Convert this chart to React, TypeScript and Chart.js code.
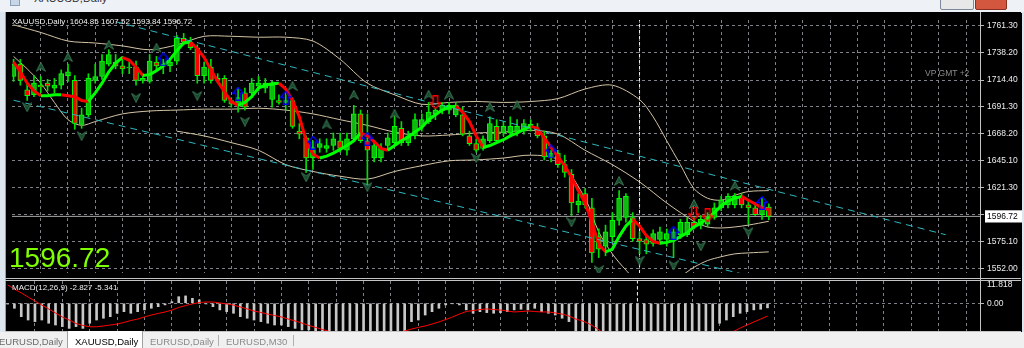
import React, { useEffect, useRef } from 'react';
import { Chart, registerables } from 'chart.js';
Chart.register(...registerables);

// ---------- data (daily XAUUSD candles, index 0..111) ----------
const opens = [1717.5,1728.2,1705.9,1701.7,1710.0,1711.7,1707.5,1710.0,1718.3,1714.1, 1676.1,1684.4,1714.1,1717.5,1728.2,1729.9,1726.6,1724.9,1725.7,1714.1, 1713.3,1729.9,1726.6,1726.6,1730.7,1750.5,1747.2,1742.3,1718.3,1725.7, 1715.8,1715.8,1696.8,1692.6,1703.4,1703.4,1709.2,1707.5,1697.6,1696.8, 1695.1,1696.8,1670.3,1664.5,1647.1,1656.2,1655.4,1657.9,1662.0,1653.8, 1663.7,1685.2,1662.0,1647.1,1647.1,1657.9,1660.4,1672.8,1660.4,1666.2, 1674.4,1678.6,1685.2,1688.5,1688.5,1684.4,1684.4,1666.2,1659.5,1655.4, 1662.0,1674.4,1668.7,1668.7,1670.3,1670.3,1674.4,1671.9,1666.2,1647.1, 1651.3,1641.4,1633.1,1606.6,1616.5,1604.1,1579.3,1571.0,1579.3,1593.3, 1595.8,1595.8,1577.6,1576.8,1573.5,1576.8,1576.8,1576.8,1581.0,1581.0, 1591.7,1589.2,1590.0,1595.8,1604.1,1606.6,1606.6,1614.0,1606.6,1604.1, 1598.3,1604.85];
const highs = [1732.3,1732.3,1711.7,1718.3,1717.5,1715.0,1715.8,1723.2,1728.2,1718.3, 1690.1,1719.9,1728.2,1736.5,1740.6,1736.5,1734.8,1729.9,1730.7,1719.9, 1736.5,1734.8,1732.3,1732.3,1753.0,1754.7,1751.4,1744.8,1729.9,1732.3, 1719.9,1718.3,1699.2,1707.5,1707.5,1715.8,1717.5,1715.8,1713.3,1701.7, 1701.7,1699.2,1676.9,1666.2,1662.0,1663.7,1663.7,1668.7,1668.7,1668.7, 1692.6,1688.5,1685.2,1662.0,1659.5,1668.7,1682.7,1678.6,1670.3,1685.2, 1685.2,1695.1,1690.1,1695.1,1695.1,1695.1,1691.0,1670.3,1663.7,1666.2, 1682.7,1680.2,1678.6,1682.7,1680.2,1680.2,1680.2,1676.9,1670.3,1653.8, 1653.8,1649.6,1637.2,1616.5,1620.7,1612.4,1585.9,1589.2,1600.0,1619.0, 1616.5,1600.0,1583.4,1581.0,1585.1,1587.6,1585.9,1585.9,1594.2,1595.8, 1595.8,1597.5,1600.0,1608.3,1614.0,1616.5,1616.5,1616.5,1609.9,1608.3, 1612.4,1607.52];
const lows = [1713.3,1710.0,1696.8,1700.1,1703.4,1705.0,1703.4,1706.7,1713.3,1671.9, 1672.8,1682.7,1711.7,1715.0,1726.6,1724.1,1719.9,1719.9,1710.0,1711.7, 1711.7,1723.2,1719.9,1721.6,1728.2,1744.8,1740.6,1711.7,1711.7,1711.7, 1711.7,1695.1,1691.0,1686.8,1688.5,1699.2,1705.0,1703.4,1691.0,1693.5, 1688.5,1672.8,1663.7,1634.7,1637.2,1652.1,1652.1,1653.8,1652.1,1649.6, 1662.0,1660.4,1623.1,1643.8,1643.8,1653.8,1657.9,1657.9,1657.9,1663.7, 1670.3,1676.9,1680.2,1685.2,1685.2,1682.7,1666.2,1657.9,1652.1,1653.8, 1660.4,1660.4,1666.2,1666.2,1666.2,1667.8,1670.3,1664.5,1645.5,1643.8, 1638.9,1630.6,1597.5,1600.0,1604.1,1556.9,1561.1,1562.7,1575.2,1589.2, 1591.7,1575.2,1564.4,1564.4,1571.0,1572.7,1571.0,1561.1,1577.6,1579.3, 1585.9,1585.9,1587.6,1594.2,1601.6,1604.1,1604.1,1604.1,1590.0,1597.5, 1594.2,1593.84];
const closes = [1728.2,1714.1,1700.9,1711.7,1708.4,1709.2,1710.0,1719.9,1721.6,1676.9, 1684.4,1715.8,1717.5,1730.7,1736.5,1726.6,1724.1,1725.7,1714.1,1715.8, 1730.7,1726.6,1728.2,1729.9,1750.5,1747.2,1742.3,1718.3,1725.7,1714.1, 1714.1,1696.8,1693.5,1699.2,1691.0,1711.7,1711.7,1711.7,1710.0,1695.1, 1696.8,1674.4,1667.8,1647.1,1656.2,1659.5,1657.9,1663.7,1655.4,1663.7, 1685.2,1662.0,1653.8,1657.9,1655.4,1664.5,1674.4,1660.4,1666.2,1680.2, 1680.2,1686.8,1688.5,1692.6,1692.6,1692.6,1667.8,1659.5,1653.8,1663.7, 1676.9,1662.0,1674.4,1674.4,1674.4,1676.9,1676.1,1666.2,1648.0,1651.3, 1641.4,1634.7,1608.3,1609.9,1606.6,1565.2,1568.5,1583.4,1593.3,1612.4, 1614.0,1577.6,1575.2,1572.7,1581.8,1583.4,1581.8,1583.4,1591.7,1591.7, 1587.6,1594.2,1595.8,1604.1,1610.7,1614.0,1614.0,1606.6,1604.1,1598.3, 1605.8,1596.72];

// smoothed moving average (green rising / red falling)
const maValues = [1729.9,1721.6,1711.7,1705.0,1700.9,1700.9,1701.7,1701.7,1700.9,1700.1, 1696.8,1695.9,1703.4,1711.7,1721.6,1729.0,1734.0,1731.5,1725.7,1718.3, 1719.1,1722.4,1726.6,1732.3,1739.8,1746.4,1747.2,1741.5,1734.0,1723.2, 1713.3,1704.2,1695.9,1692.6,1695.1,1700.1,1707.5,1710.0,1711.2,1711.7, 1706.7,1696.8,1682.7,1662.0,1650.4,1647.1,1648.8,1651.3,1654.6,1657.9, 1662.0,1668.7,1666.2,1661.2,1655.4,1653.8,1657.9,1662.0,1665.3,1669.5, 1673.6,1680.2,1684.4,1688.5,1691.0,1691.8,1686.8,1678.6,1666.2,1656.2, 1657.9,1660.4,1662.9,1666.2,1668.7,1671.9,1674.4,1672.8,1664.5,1656.2, 1648.0,1640.5,1630.6,1619.0,1608.3,1591.7,1572.7,1566.1,1568.5,1579.3, 1588.4,1594.2,1588.4,1580.2,1575.2,1573.5,1574.3,1576.0,1579.3,1582.6, 1587.6,1590.9,1595.0,1600.0,1605.8,1609.9,1612.4,1614.0,1610.7,1607.4, 1604.1,1602.5];

// Bollinger bands, read at bar indices
const bbUpperIdx = [0,4,8,12,16,20,24,28,32,36,40,44,48,52,56,60,64,68,72,76,80,84,88,92,94,96,98,100,102,104,106,108,111];
const bbUpper = [1762.1,1755.5,1748.1,1746.4,1743.9,1740.6,1744.8,1752.2,1752.2,1751.4,1751.4,1748.1,1732.3,1711.7,1701.7,1693.5,1695.1,1695.9,1695.1,1695.9,1698.4,1706.7,1710.0,1697.6,1682.7,1662.0,1641.4,1620.7,1612.4,1610.7,1614.9,1618.2,1619.0];
const bbMiddleIdx = [0,2,4,6,8,10,12,16,20,24,28,32,36,40,44,48,52,56,60,64,68,72,76,80,84,88,92,96,100,102,104,106,108,111];
const bbMiddle = [1734.8,1724.1,1711.7,1695.1,1680.2,1675.3,1678.6,1685.2,1687.7,1688.5,1689.3,1689.3,1690.1,1688.5,1685.2,1680.2,1675.3,1669.5,1666.2,1667.0,1668.7,1669.5,1671.1,1667.8,1653.8,1641.4,1626.5,1608.3,1592.5,1587.6,1586.7,1587.6,1589.2,1592.5];
const bbLowerIdx = [24,28,32,36,40,44,48,52,56,60,64,68,72,76,80,84,86,88,90,92,96,98,100,102,104,106,108,111];
const bbLower = [1670.3,1666.2,1660.4,1653.8,1641.4,1635.5,1631.4,1628.9,1635.5,1640.5,1644.7,1645.5,1647.1,1649.6,1645.5,1612.4,1583.4,1564.4,1550.4,1539.6,1536.3,1544.6,1552.8,1558.6,1561.9,1564.4,1565.2,1566.1];

// trend channel (dashed cyan)
const channelUpperIdx = [15, 137];
const channelUpper = [1764.8, 1580.9];
const channelLowerIdx = [0, 112];
const channelLower = [1697.0, 1540.2];

// fractals
const fractalUpIdx = [4,8,14,21,41,46,50,56,61,64,70,74,89,100,106];
const fractalUp = [1725.7,1734.0,1744.8,1742.3,1709.2,1676.1,1701.7,1685.2,1701.7,1701.7,1691.0,1692.6,1627.3,1607.4,1623.1];
const fractalDownIdx = [2,10,18,27,34,43,52,68,82,86,92,97,101,108];
const fractalDown = [1691.0,1666.2,1699.2,1700.9,1678.6,1630.6,1622.3,1647.1,1591.7,1550.4,1558.6,1554.5,1571.0,1583.4];

// signal arrows
const buyArrowIdx = [22,33,40,44,52,79,97,110];
const buyArrow = [1732.3,1702.6,1699.2,1660.4,1663.7,1652.9,1582.6,1608.3];
const sellArrowIdx = [62,100,102];
const sellArrow = [1695.1,1599.2,1597.5];

const markerLineIdx = 92;
const bidPrice = 1596.72;
const priceTicks = [1552.0,1575.1,1596.72,1598.2,1621.3,1645.1,1668.2,1691.3,1714.4,1738.2,1761.3];

// MACD (12,26,9)
const macdHist = [-0.5,-3.1,-8.3,-10.4,-11.4,-10.4,-12.4,-13.5,-14.5,-15.6, -14.5,-15.6,-12.4,-10.4,-9.3,-8.3,-6.2,-5.2,-6.2,-5.2, -4.1,-3.1,-2.1,-1.0,1.0,4.1,4.6,3.1,2.1,-0.4, -2.1,-4.1,-5.2,-6.2,-8.3,-9.3,-10.4,-11.4,-12.4,-13.5, -13.5,-14.5,-15.6,-16.6,-16.6,-18.5,-19.5,-20.5,-21.0,-21.5, -22.0,-22.0,-21.5,-21.0,-20.5,-20.0,-19.5,-19.0,-18.0,-11.4, -10.4,-7.3,-5.2,-3.1,-1.0,-0.2,-1.0,-4.1,-6.2,-5.2, -5.8,-6.2,-5.8,-5.2,-4.1,-3.7,-4.1,-3.1,-5.2,-6.2, -7.3,-9.3,-11.4,-18.0,-20.0,-23.0,-25.0,-26.0,-27.0,-27.5, -28.0,-28.0,-27.5,-27.0,-26.5,-26.0,-25.5,-25.0,-24.5,-24.0, -23.0,-22.0,-21.0,-19.5,-12.4,-10.4,-8.3,-6.2,-5.2,-4.1, -3.7,-2.827];
const macdSignal = [11.4,8.9,6.4,3.9,1.4,-1.1,-3.5,-6.0,-8.5,-10.4, -12.6,-13.8,-14.6,-14.6,-14.1,-13.5,-12.9,-11.9,-10.7,-9.8, -8.5,-7.3,-6.3,-5.4,-4.2,-2.6,-1.4,-0.4,0.5,0.8, 0.8,0.2,-0.4,-1.1,-2.3,-3.5,-4.8,-5.7,-6.7,-7.6, -8.5,-9.8,-11.0,-12.3,-13.8,-15.0,-16.3,-17.5,-19.0,-20.5, -22.0,-23.0,-23.5,-23.5,-23.0,-22.0,-20.5,-18.8,-17.2,-16.0, -15.0,-14.1,-12.9,-11.6,-10.1,-8.5,-6.7,-5.1,-4.5,-3.9, -3.5,-3.9,-4.2,-4.8,-5.4,-5.1,-4.8,-5.1,-5.4,-5.4, -6.0,-6.7,-7.9,-9.8,-11.0,-12.9,-15.4,-18.5,-21.0,-23.0, -25.0,-26.5,-27.5,-28.0,-28.3,-28.3,-28.0,-27.3,-26.3,-25.0, -23.8,-22.6,-21.5,-20.4,-19.4,-18.5,-17.6,-15.4,-13.5,-11.6, -9.8,-7.9];
const macdTicks = [0, 11.818];

const gridIndex = [4,8,12,16,20,24,28,32,36,40,44,48,52,56,60,64,68,72,76,80,84,88,92,96,100,104,108,112,116,120,124,128,132,136,140];

// ---------- view ----------
const X_MIN = -0.23, X_MAX = 142.04;
const Y_MIN = 1547.86, Y_MAX = 1766.26;
const M_MIN = -17.23, M_MAX = 13.87;
const FONT = '"Liberation Sans", Arial, sans-serif';
const GRID = '#7e8288';

function arrowCanvas(kind: string): HTMLCanvasElement {
  const c = document.createElement('canvas');
  const ctx = c.getContext('2d')!;
  if (kind === 'fu' || kind === 'fd') {
    c.width = 10; c.height = 10;
    if (kind === 'fd') { ctx.translate(0, 10); ctx.scale(1, -1); }
    ctx.beginPath();
    ctx.moveTo(5, 0.5); ctx.lineTo(9.5, 9.3); ctx.lineTo(5, 6.3); ctx.lineTo(0.5, 9.3); ctx.closePath();
    ctx.fillStyle = '#17492b'; ctx.fill();
    ctx.strokeStyle = '#3a7553'; ctx.lineWidth = 1; ctx.stroke();
  } else {
    c.width = 12; c.height = 14;
    if (kind === 'rd') { ctx.translate(0, 14); ctx.scale(1, -1); }
    ctx.beginPath();
    ctx.moveTo(6, 0.7); ctx.lineTo(11.3, 6.5); ctx.lineTo(8.3, 6.5); ctx.lineTo(8.3, 13.3);
    ctx.lineTo(3.7, 13.3); ctx.lineTo(3.7, 6.5); ctx.lineTo(0.7, 6.5); ctx.closePath();
    ctx.strokeStyle = kind === 'rd' ? '#ff0000' : '#0000ff'; ctx.lineWidth = 1.3; ctx.stroke();
  }
  return c;
}

const pts = (idx: number[], vals: number[]) => idx.map((x, k) => ({ x, y: vals[k] }));

export default function App() {
  const mainRef = useRef<HTMLCanvasElement>(null);
  const macdRef = useRef<HTMLCanvasElement>(null);

  useEffect(() => {
    const fu = arrowCanvas('fu'), fd = arrowCanvas('fd'), bu = arrowCanvas('bu'), rd = arrowCanvas('rd');
    const idxs = closes.map((_, i) => i);
    const lineBase = { type: 'line' as const, pointRadius: 0, borderWidth: 1, tension: 0, clip: 0 };

    const xScale = {
      type: 'linear' as const, min: X_MIN, max: X_MAX, offset: false,
      afterBuildTicks: (s: any) => { s.ticks = gridIndex.map(v => ({ value: v })); },
      afterFit: (s: any) => { s.height = 0; s.paddingLeft = 0; s.paddingRight = 0; },
      ticks: { display: false },
      grid: { color: GRID, lineWidth: 1, drawTicks: false, offset: false },
      border: { display: false, dash: [3, 3] },
    };

    const main = new Chart(mainRef.current!, {
      type: 'bar',
      data: {
        datasets: [
          { ...lineBase, data: [{ x: X_MIN, y: bidPrice }, { x: X_MAX, y: bidPrice }], borderColor: '#a4a4a4', order: 12 },
          { ...lineBase, data: [{ x: markerLineIdx, y: Y_MIN }, { x: markerLineIdx, y: Y_MAX }], borderColor: '#f0f0f0', borderDash: [3, 3], order: 13 },
          { ...lineBase, data: pts(bbUpperIdx, bbUpper), borderColor: '#d4c4a6', order: 11, tension: 0.3 },
          { ...lineBase, data: pts(bbMiddleIdx, bbMiddle), borderColor: '#d4c4a6', order: 11, tension: 0.3 },
          { ...lineBase, data: pts(bbLowerIdx, bbLower), borderColor: '#d4c4a6', order: 11, tension: 0.3 },
          {
            type: 'bar', data: idxs.map(i => ({ x: i, y: [lows[i], highs[i]] })),
            backgroundColor: '#00e000', barThickness: 1, grouped: false, order: 9, clip: 0,
          } as any,
          {
            type: 'bar', data: idxs.map(i => ({ x: i, y: [opens[i], closes[i]] })),
            backgroundColor: idxs.map(i => (closes[i] >= opens[i] ? '#10b810' : '#ff0000')),
            borderColor: '#00ff00', borderWidth: 1, borderSkipped: false,
            barThickness: 5, grouped: false, order: 8, clip: 0,
          } as any,
          {
            ...lineBase, data: idxs.map(i => ({ x: i, y: maValues[i] })), borderWidth: 3, borderColor: '#00ff00', order: 5,
            segment: { borderColor: (c: any) => (c.p1.parsed.y >= c.p0.parsed.y ? '#00ff00' : '#ff0000') },
          },
          { ...lineBase, data: pts(channelUpperIdx, channelUpper), borderColor: '#2fb8c0', borderDash: [7, 5], order: 4 },
          { ...lineBase, data: pts(channelLowerIdx, channelLower), borderColor: '#2fb8c0', borderDash: [7, 5], order: 4 },
          { type: 'line', showLine: false, data: pts(fractalUpIdx, fractalUp), pointStyle: fu, pointRadius: 5, order: 3, clip: 0 } as any,
          { type: 'line', showLine: false, data: pts(fractalDownIdx, fractalDown), pointStyle: fd, pointRadius: 5, order: 3, clip: 0 } as any,
          { type: 'line', showLine: false, data: pts(buyArrowIdx, buyArrow), pointStyle: bu, pointRadius: 6, order: 2, clip: 0 } as any,
          { type: 'line', showLine: false, data: pts(sellArrowIdx, sellArrow), pointStyle: rd, pointRadius: 6, order: 2, clip: 0 } as any,
        ],
      },
      options: {
        responsive: false, animation: false, devicePixelRatio: 1, events: [],
        layout: { padding: { left: 1, top: 1, right: 0, bottom: 2 } },
        plugins: { legend: { display: false }, tooltip: { enabled: false } },
        scales: {
          x: xScale as any,
          y: {
            position: 'right', min: Y_MIN, max: Y_MAX,
            afterBuildTicks: (s: any) => { s.ticks = priceTicks.map(v => ({ value: v })); },
            afterFit: (s: any) => { s.width = 42; s.paddingTop = 0; s.paddingBottom = 0; },
            ticks: {
              autoSkip: false, padding: 3,
              font: { family: FONT, size: 8.5 },
              color: (c: any) => (c.tick && c.tick.value === bidPrice ? '#000000' : '#ececec'),
              showLabelBackdrop: (c: any) => !!(c.tick && c.tick.value === bidPrice),
              backdropColor: '#ffffff',
              backdropPadding: { top: 1, bottom: 1, left: 2, right: 6 },
              callback: (v: any) => (v === 1598.2 ? '' : Number(v).toFixed(2)),
            },
            grid: {
              color: (c: any) => (c.tick && c.tick.value === bidPrice ? 'rgba(0,0,0,0)' : GRID),
              tickColor: (c: any) => (c.tick && c.tick.value === bidPrice ? 'rgba(0,0,0,0)' : '#b8b8b8'),
              tickLength: 4, drawTicks: true, tickBorderDash: [],
            },
            border: { display: false, dash: [3, 3] },
          } as any,
        },
      },
    });

    const macd = new Chart(macdRef.current!, {
      type: 'bar',
      data: {
        datasets: [
          { ...lineBase, data: [{ x: markerLineIdx, y: M_MIN }, { x: markerLineIdx, y: M_MAX }], borderColor: '#f0f0f0', borderDash: [3, 3], order: 13 },
          { type: 'bar', data: idxs.map(i => ({ x: i, y: macdHist[i] })), backgroundColor: '#c8c8c8', barThickness: 2, grouped: false, order: 8, clip: 0 } as any,
          { ...lineBase, data: idxs.map(i => ({ x: i, y: macdSignal[i] })), borderColor: '#ff0000', order: 4 },
        ],
      },
      options: {
        responsive: false, animation: false, devicePixelRatio: 1, events: [],
        layout: { padding: { left: 1, top: 1, right: 0, bottom: 1 } },
        plugins: { legend: { display: false }, tooltip: { enabled: false } },
        scales: {
          x: xScale as any,
          y: {
            position: 'right', min: M_MIN, max: M_MAX,
            afterBuildTicks: (s: any) => { s.ticks = macdTicks.map(v => ({ value: v })); },
            afterFit: (s: any) => { s.width = 42; s.paddingTop = 0; s.paddingBottom = 0; },
            ticks: {
              autoSkip: false, padding: 3, color: '#ececec',
              font: { family: FONT, size: 8.5 },
              callback: (v: any) => (v === 0 ? '0.00' : String(v)),
            },
            grid: {
              color: (c: any) => (c.tick && c.tick.value === 0 ? GRID : 'rgba(0,0,0,0)'),
              tickColor: (c: any) => (c.tick && c.tick.value === 0 ? '#b8b8b8' : 'rgba(0,0,0,0)'),
              tickLength: 4, drawTicks: true, tickBorderDash: [],
            },
            border: { display: false, dash: [3, 3] },
          } as any,
        },
      },
    });

    return () => { main.destroy(); macd.destroy(); };
  }, []);

  const txt = (extra: React.CSSProperties): React.CSSProperties => ({
    position: 'absolute', fontFamily: FONT, whiteSpace: 'pre', lineHeight: '10px', fontSize: 8.5, ...extra,
  });

  return (
    <div style={{ position: 'fixed', left: 0, top: 0, width: 1024, height: 348, overflow: 'hidden', background: '#dde6ef' }}>
      {/* window title strip */}
      <div style={{ position: 'absolute', left: 0, top: 0, width: 1024, height: 12, background: '#eef1f5' }} />
      <div style={{ position: 'absolute', left: 10, top: -4, width: 8, height: 8, background: '#c9d6e6', border: '1px solid #8aa0bb' }} />
      <div style={txt({ left: 34, top: -8, fontSize: 11, lineHeight: '12px', color: '#333' })}>XAUUSD,Daily</div>
      <div style={{ position: 'absolute', left: 940, top: -2, width: 32, height: 10, background: '#e8e8e8', border: '1px solid #7a8a9a', borderRadius: 2 }} />
      <div style={{ position: 'absolute', left: 975, top: -2, width: 30, height: 10, background: '#d2573e', border: '1px solid #8a3020', borderRadius: 2 }} />

      {/* chart window */}
      <div style={{ position: 'absolute', left: 5, top: 12, width: 1016, height: 320, background: '#000' }} />
      <canvas ref={mainRef} width={1017} height={267} style={{ position: 'absolute', left: 5, top: 13, width: 1017, height: 267, background: '#000' }} />
      <canvas ref={macdRef} width={1017} height={52} style={{ position: 'absolute', left: 5, top: 280, width: 1017, height: 52, background: '#000' }} />
      {/* frame lines */}
      <div style={{ position: 'absolute', left: 5, top: 12, width: 1, height: 320, background: '#9c9c9c' }} />
      <div style={{ position: 'absolute', left: 980, top: 12, width: 1, height: 320, background: '#c4c4c4' }} />
      <div style={{ position: 'absolute', left: 5, top: 278, width: 1016, height: 1, background: '#c4c4c4' }} />
      <div style={{ position: 'absolute', left: 5, top: 280, width: 1016, height: 1, background: '#c4c4c4' }} />
      <div style={{ position: 'absolute', left: 5, top: 331, width: 1016, height: 1, background: '#c4c4c4' }} />

      {/* texts on the chart */}
      <div style={txt({ left: 12, top: 17, fontSize: 8, color: '#f0f0f0' })}>XAUUSD,Daily  1604.85 1607.52 1593.84 1596.72</div>
      <div style={txt({ left: 925, top: 68, color: '#8c8c8c' })}>VP GMT +2</div>
      <div style={txt({ left: 9, top: 244, fontSize: 28, lineHeight: '28px', color: '#7fff00' })}>1596.72</div>
      <div style={txt({ left: 12, top: 283, fontSize: 8, color: '#f0f0f0' })}>MACD(12,26,9) -2.827 -5.341</div>

      {/* tabs */}
      <div style={{ position: 'absolute', left: 0, top: 332, width: 1024, height: 16, background: '#f0f0f0' }} />
      <div style={{ position: 'absolute', left: 67, top: 331, width: 74, height: 17, background: '#ffffff', borderLeft: '1px solid #a0a0a0', borderRight: '1px solid #a0a0a0' }} />
      <div style={txt({ left: -1, top: 336, fontSize: 9.5, lineHeight: '11px', color: '#6a6a6a' })}>EURUSD,Daily</div>
      <div style={txt({ left: 75, top: 336, fontSize: 9.5, lineHeight: '11px', color: '#000' })}>XAUUSD,Daily</div>
      <div style={txt({ left: 150, top: 336, fontSize: 9.5, lineHeight: '11px', color: '#8a8a8a' })}>EURUSD,Daily</div>
      <div style={{ position: 'absolute', left: 218, top: 335, width: 1, height: 11, background: '#b0b0b0' }} />
      <div style={txt({ left: 226, top: 336, fontSize: 9.5, lineHeight: '11px', color: '#8a8a8a' })}>EURUSD,M30</div>
      <div style={{ position: 'absolute', left: 293, top: 335, width: 1, height: 11, background: '#b0b0b0' }} />
    </div>
  );
}
